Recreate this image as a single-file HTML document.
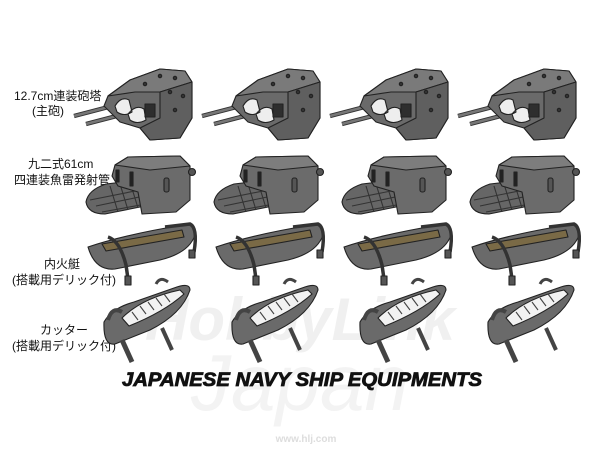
<!DOCTYPE html>
<html><head><meta charset="utf-8"><style>
body{margin:0;background:#fff;width:600px;height:450px;overflow:hidden}
svg{display:block}
text{font-family:"Liberation Sans","Noto Sans CJK JP",sans-serif}
</style></head><body>
<svg width="600" height="450" viewBox="0 0 600 450" xmlns="http://www.w3.org/2000/svg">
<defs>
<g id="turret" stroke="#222" stroke-width="1.1" stroke-linejoin="round">
  <line x1="74" y1="116" x2="120" y2="104" stroke="#333" stroke-width="4.5"/>
  <line x1="74" y1="116" x2="120" y2="104" stroke="#777" stroke-width="2.5"/>
  <line x1="86" y1="124" x2="132" y2="112" stroke="#333" stroke-width="4.5"/>
  <line x1="86" y1="124" x2="132" y2="112" stroke="#777" stroke-width="2.5"/>
  <polygon points="104,106 108,96 130,80 160,69 185,71 192,82 192,118 180,138 150,140 140,128 120,122" fill="#6a6a6a"/>
  <polygon points="108,96 130,80 160,69 185,71 192,82 160,92 135,92" fill="#7a7a7a"/>
  <polygon points="140,128 150,140 180,138 192,118 192,82 160,92 160,118" fill="#5f5f5f"/>
  <path d="M115,106 q6,-10 14,-6 l3,12 q-8,5 -15,0z M128,114 q8,-10 16,-5 l2,11 q-9,5 -16,0z" fill="#eee"/>
  <rect x="145" y="104" width="10" height="13" fill="#2e2e2e"/>
  <circle cx="160" cy="76" r="1.7" fill="#333"/><circle cx="175" cy="78" r="1.7" fill="#333"/><circle cx="145" cy="84" r="1.7" fill="#333"/><circle cx="170" cy="92" r="1.7" fill="#333"/><circle cx="183" cy="96" r="1.7" fill="#333"/><circle cx="175" cy="110" r="1.7" fill="#333"/>
</g>
<g id="torp" stroke="#222" stroke-width="1.1" stroke-linejoin="round">
  <path d="M86,202 q2,-12 20,-18 l35,-4 l4,26 l-40,8 q-17,0 -19,-12z" fill="#666"/>
  <path d="M90,200 l50,-10 M96,206 l48,-10 M102,212 l44,-8 M110,186 l8,26 M120,184 l8,26 M130,182 l8,26" stroke="#333" fill="none"/>
  <polygon points="112,176 115,165 128,157 180,156 190,166 190,200 176,212 142,214 138,192 118,186" fill="#6b6b6b"/>
  <polygon points="115,165 128,157 180,156 190,166 150,170" fill="#7d7d7d"/>
  <rect x="116" y="170" width="3" height="12" fill="#222"/><rect x="130" y="172" width="3" height="14" fill="#222"/><rect x="164" y="178" width="5" height="14" rx="2" fill="#555"/>
  <circle cx="192" cy="172" r="3.5" fill="#555"/>
</g>
<g id="launch" stroke="#222" stroke-width="1.1" stroke-linejoin="round">
  <path d="M88,247 q35,-12 95,-22 q14,-2 12,10 q-6,18 -35,25 l-45,9 q-20,2 -27,-22z" fill="#6a6a6a"/>
  <path d="M102,244 l80,-14 l2,7 l-78,14z" fill="#7a6a46"/>
  <path d="M108,237 q12,4 18,28 l2,14" stroke="#333" stroke-width="3.5" fill="none"/>
  <path d="M165,227 l25,-3 q8,4 4,28" stroke="#333" stroke-width="3.5" fill="none"/>
  <rect x="125" y="276" width="6" height="9" fill="#555"/>
  <rect x="189" y="250" width="6" height="8" fill="#555"/>
</g>
<g id="cutter" stroke="#222" stroke-width="1.1" stroke-linejoin="round">
  <path d="M104,322 q8,-14 30,-20 l40,-14 q16,-6 16,2 q-8,24 -40,40 l-35,14 q-12,2 -11,-22z" fill="#6a6a6a"/>
  <path d="M122,318 q20,-20 58,-28 l4,4 q-20,18 -55,32z" fill="#f2f2f2"/>
  <path d="M132,312 l6,8 M140,306 l6,8 M148,302 l6,8 M156,298 l6,8 M164,294 l6,8" stroke="#444"/>
  <path d="M108,320 q4,-14 14,-8" stroke="#444" stroke-width="4" fill="none"/>
  <path d="M156,284 q4,-8 12,-2" stroke="#444" stroke-width="3" fill="none"/>
  <path d="M122,340 l10,22" stroke="#444" stroke-width="5"/>
  <path d="M162,328 l10,22" stroke="#444" stroke-width="4"/>
</g>
</defs>
<text x="300" y="340" text-anchor="middle" font-size="60" font-weight="bold" font-style="italic" fill="#f0f0f0">HobbyLink</text>
<text x="300" y="410" text-anchor="middle" font-size="80" font-style="italic" font-family="Liberation Serif" fill="#f3f3f3">Japan</text>
<g font-size="12" fill="#111">
<text x="14" y="100">12.7cm連装砲塔</text><text x="32" y="115">(主砲)</text>
<text x="28" y="168">九二式61cm</text><text x="14" y="184">四連装魚雷発射管</text>
<text x="44" y="268">内火艇</text><text x="12" y="284">(搭載用デリック付)</text>
<text x="40" y="334">カッター</text><text x="12" y="350">(搭載用デリック付)</text>
</g>
<use href="#turret"/><use href="#turret" x="128"/><use href="#turret" x="256"/><use href="#turret" x="384"/>
<use href="#torp"/><use href="#torp" x="128"/><use href="#torp" x="256"/><use href="#torp" x="384"/>
<use href="#launch"/><use href="#launch" x="128"/><use href="#launch" x="256"/><use href="#launch" x="384"/>
<use href="#cutter"/><use href="#cutter" x="128"/><use href="#cutter" x="256"/><use href="#cutter" x="384"/>
<text x="302" y="386" text-anchor="middle" font-size="19" font-weight="bold" font-style="italic" fill="#111" stroke="#111" stroke-width="0.8" textLength="360" lengthAdjust="spacingAndGlyphs">JAPANESE NAVY SHIP EQUIPMENTS</text>
<text x="306" y="442" text-anchor="middle" font-size="10" font-weight="bold" fill="#ddd">www.hlj.com</text>
</svg>
</body></html>
